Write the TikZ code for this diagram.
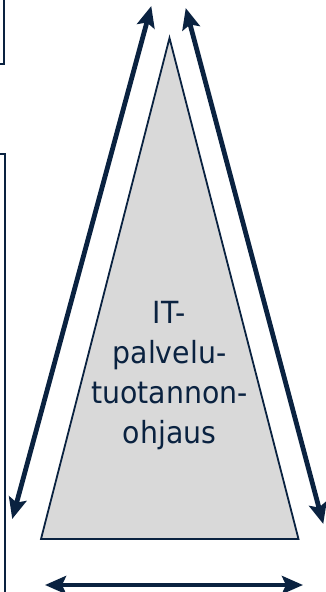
\documentclass[tikz,border=0pt]{standalone}
\usepackage{fontspec}
\setmainfont{DejaVu Sans}[FakeStretch=0.93]
\usetikzlibrary{arrows.meta}
\definecolor{navy}{RGB}{10,34,64}
\definecolor{pyramidgray}{RGB}{217,217,217}
\tikzset{
  span/.style={{Stealth[length=21pt,width=18pt,inset=4pt]}-{Stealth[length=21pt,width=18pt,inset=4pt]}, line width=4.8pt, navy, shorten <=-1pt, shorten >=-1pt},
  frame/.style={navy, line width=2.2pt}
}
\begin{document}
\begin{tikzpicture}[x=1pt, y=-1pt]
    \useasboundingbox (0,0) rectangle (325,592);

    % neighbouring boxes, cut off at the left edge
    \draw[frame] (4,-5) -- (4,64) -- (-5,64);
    \draw[frame] (-5,154) -- (5,154) -- (5,600);

    % pyramid
    \coordinate (apex) at (169.5,38);
    \coordinate (baseL) at (41,539);
    \coordinate (baseR) at (298.5,539);
    \filldraw[fill=pyramidgray, draw=navy, line width=1.8pt] (apex) -- (baseL) -- (baseR) -- cycle;
    \node[align=center, text=navy, font=\fontsize{30.5}{40}\selectfont] (label) at (169.5,375.5) {IT-\\palvelu-\\tuotannon-\\ohjaus};

    % arrows
    \coordinate (L1) at (151,7);
    \coordinate (L2) at (12.5,518);
    \coordinate (R1) at (186,9);
    \coordinate (R2) at (323,523);
    \coordinate (B1) at (46,585);
    \coordinate (B2) at (302,585);
    \draw[span] (L1) -- (L2);
    \draw[span] (R1) -- (R2);
    \draw[span] (B1) -- (B2);
\end{tikzpicture}
\end{document}
